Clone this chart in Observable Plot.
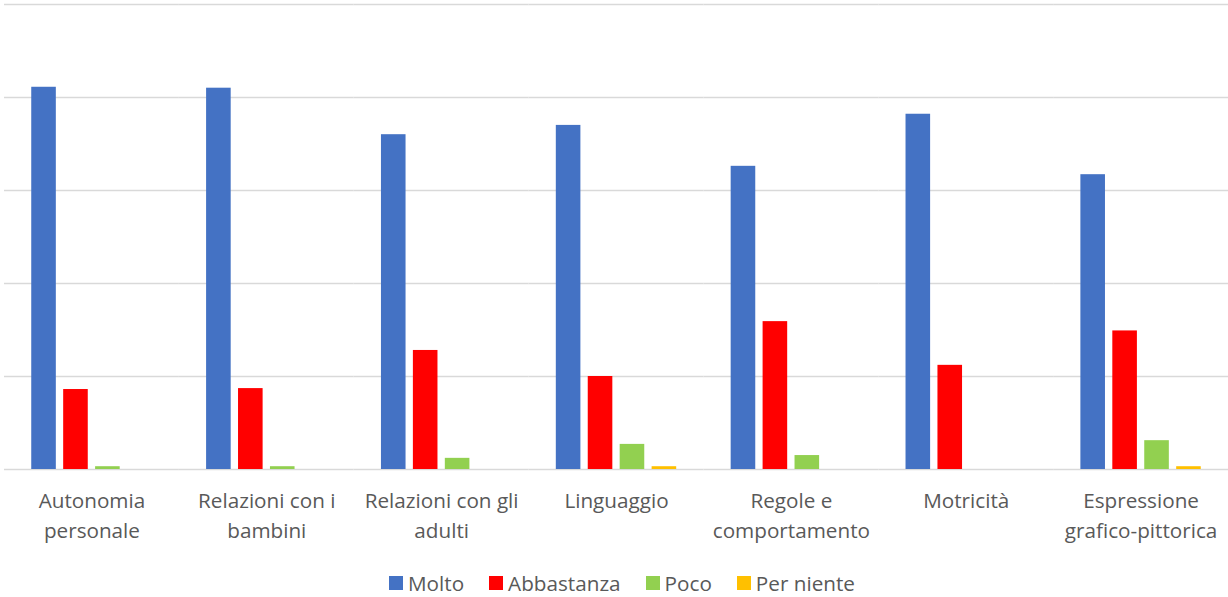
<!DOCTYPE html>
<html lang="it">
<head>
<meta charset="utf-8">
<script src="https://cdn.jsdelivr.net/npm/d3@7"></script>
<script src="https://cdn.jsdelivr.net/npm/@observablehq/plot@0.6"></script>
<style>
  html, body { margin: 0; padding: 0; background: #ffffff; }
  #chart { width: 1228px; }
  .legend {
    display: flex; justify-content: center; align-items: center;
    gap: 25px; padding-left: 16px; margin-top: 6px;
    font-family: "Open Sans", sans-serif; font-size: 20.7px; color: #595959;
  }
  .legend .item { display: flex; align-items: center; gap: 5px; line-height: 24px; }
  .legend .sw { width: 14px; height: 14px; display: inline-block; }
</style>
</head>
<body>
<div id="chart"></div>
<script>
// Aree di sviluppo (assi) e livelli di giudizio (serie)
const categories = [
  "Autonomia personale",
  "Relazioni con i bambini",
  "Relazioni con gli adulti",
  "Linguaggio",
  "Regole e comportamento",
  "Motricità",
  "Espressione grafico-pittorica"
];
const tickLabels = [
  "Autonomia\npersonale",
  "Relazioni con i\nbambini",
  "Relazioni con gli\nadulti",
  "Linguaggio",
  "Regole e\ncomportamento",
  "Motricità",
  "Espressione\ngrafico-pittorica"
];
const series = ["Molto", "Abbastanza", "Poco", "Per niente"];
const colors = ["#4472C4", "#FF0000", "#92D050", "#FFC000"];

// Percentuali per serie, nell'ordine delle categorie
const molto      = [82.2, 82.0, 72.0, 74.0, 65.2, 76.4, 63.4];
const abbastanza = [17.2, 17.4, 25.6, 20.0, 31.8, 22.4, 29.8];
const poco       = [0.6, 0.6, 2.4, 5.4, 3.0, 0, 6.2];
const perNiente  = [0, 0, 0, 0.6, 0, 0, 0.6];

const yTicks = [0, 20, 40, 60, 80, 100];

const valuesBySeries = [molto, abbastanza, poco, perNiente];
const rows = [];
categories.forEach((c, i) => {
  series.forEach((s, j) => {
    rows.push({category: c, series: s, value: valuesBySeries[j][i]});
  });
});

const labelOf = new Map(categories.map((c, i) => [c, tickLabels[i]]));

const chart = Plot.plot({
  width: 1228,
  height: 565,
  marginTop: 4,
  marginBottom: 96,
  marginLeft: 4,
  marginRight: 0,
  style: {fontFamily: "'Open Sans', sans-serif", fontSize: "20.7px", color: "#595959", background: "#ffffff"},
  fx: {domain: categories, padding: 0, round: false, label: null},
  x: {domain: series, paddingInner: 0.23, paddingOuter: 0.853, round: false, axis: null},
  y: {domain: [0, 100], axis: null},
  color: {domain: series, range: colors},
  marks: [
    Plot.ruleY(yTicks, {stroke: "#d9d9d9", strokeWidth: 1.4}),
    Plot.barY(rows, {fx: "category", x: "series", y: "value", fill: "series", inset: 0}),
    Plot.axisFx({
      anchor: "bottom",
      label: null,
      tickSize: 0,
      tickPadding: 17,
      lineHeight: 1.46,
      tickFormat: d => labelOf.get(d),
      fontSize: 20.7,
      fill: "#595959"
    })
  ]
});

const root = document.getElementById("chart");
root.appendChild(chart);

// Legenda sotto il grafico
const legend = document.createElement("div");
legend.className = "legend";
series.forEach((s, j) => {
  const item = document.createElement("span");
  item.className = "item";
  const sw = document.createElement("span");
  sw.className = "sw";
  sw.style.background = colors[j];
  const label = document.createElement("span");
  label.textContent = s;
  item.appendChild(sw);
  item.appendChild(label);
  legend.appendChild(item);
});
root.appendChild(legend);
</script>
</body>
</html>
